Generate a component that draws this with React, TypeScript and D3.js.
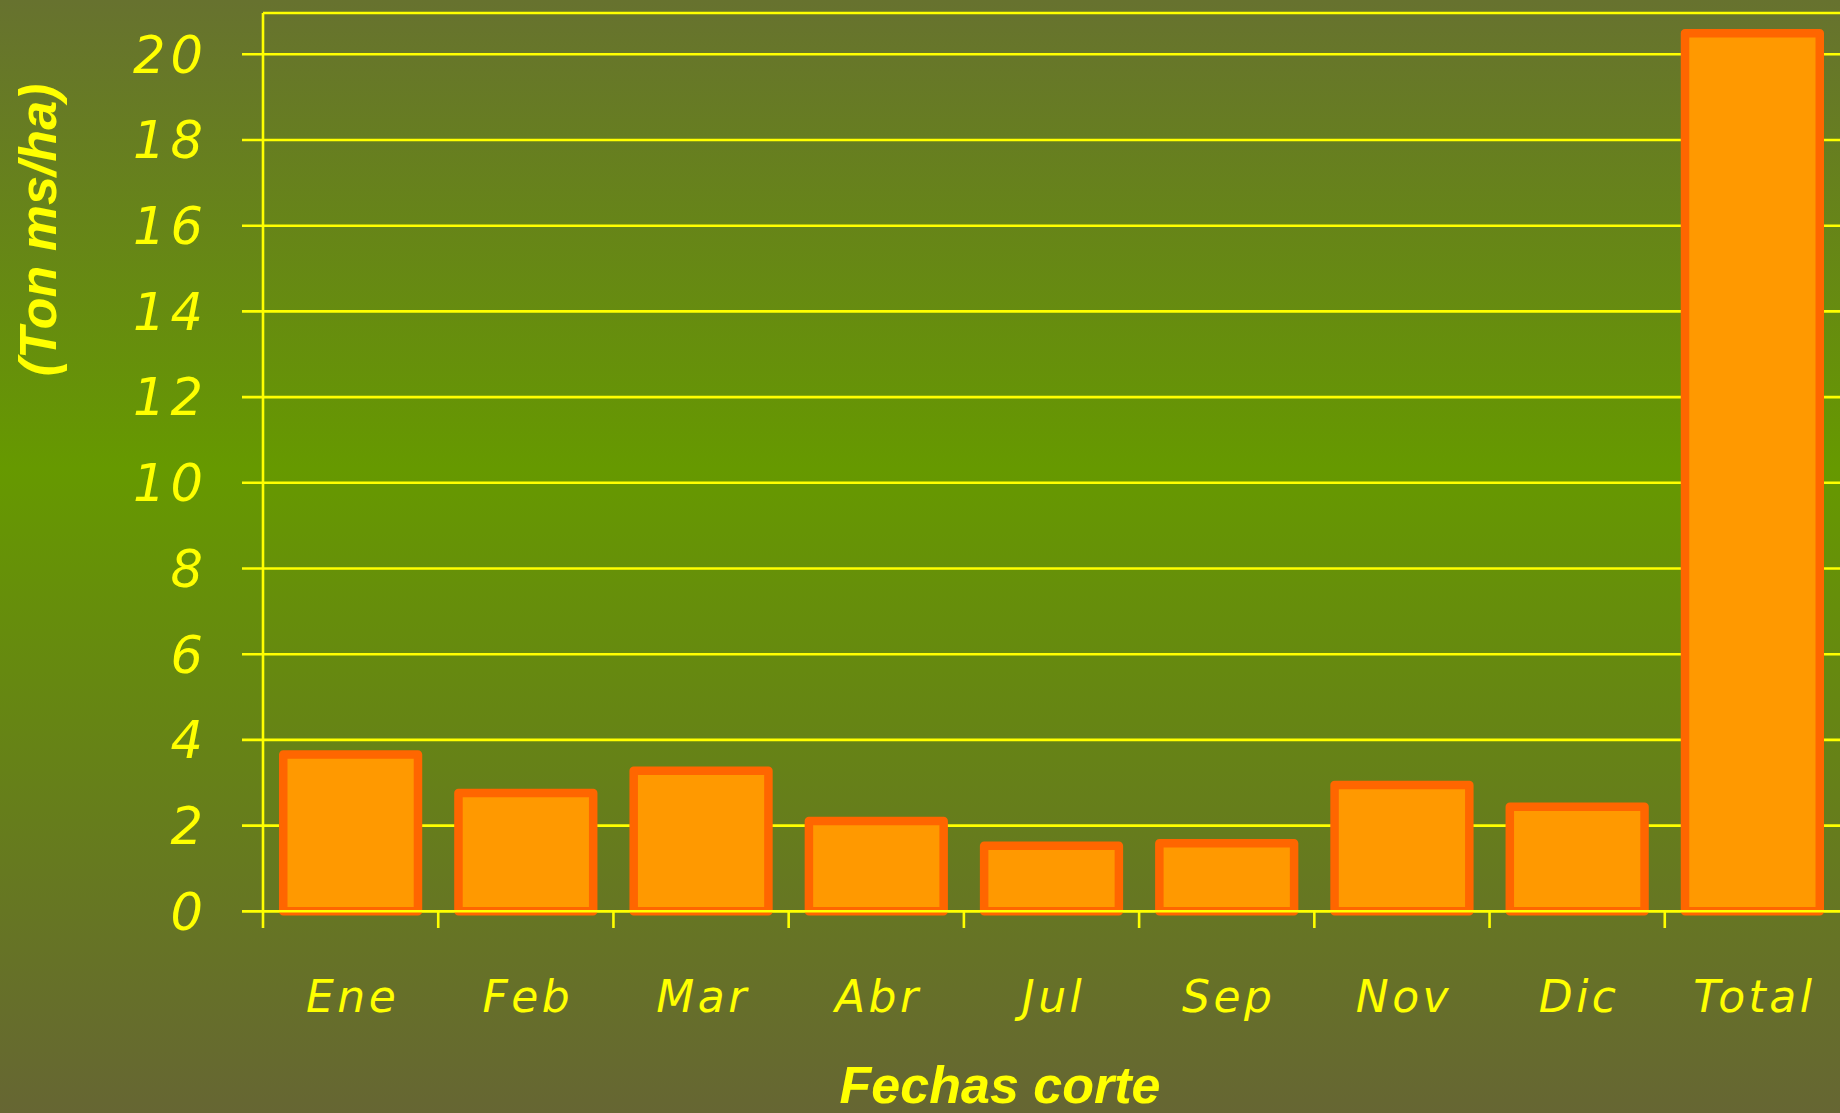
import React from 'react';
import * as d3 from 'd3';

// values (Ton ms/ha per cut)
const categories = ['Ene', 'Feb', 'Mar', 'Abr', 'Jul', 'Sep', 'Nov', 'Dic', 'Total'];
const values = [3.66, 2.76, 3.28, 2.11, 1.53, 1.59, 2.95, 2.44, 20.49];
const yTicks = [0, 2, 4, 6, 8, 10, 12, 14, 16, 18, 20];

const yTitle = '(Ton ms/ha)';
const xTitle = 'Fechas corte';

const App = () => {
    const width = 1840;
    const height = 1113;
    const left = 263;
    const right = 1840;
    const top = 13;
    const bottom = 911.3;

    const x = d3.scaleBand<string>()
        .domain(categories)
        .range([left, right])
        .paddingInner(0.231)
        .paddingOuter(0.1155);
    const y = d3.scaleLinear()
        .domain([0, 20])
        .range([bottom, bottom - 20 * 42.85]);

    const yellow = '#FFFF00';
    const lineW = 2.6;
    const tickFont = '"DejaVu Sans", sans-serif';
    const titleFont = '"Liberation Sans", Arial, sans-serif';
    const step = x.step();
    const boundaries = d3.range(1, categories.length).map(i => left + i * step);

    return (
        <svg width={width} height={height}
             style={{position: 'absolute', left: 0, top: 0, display: 'block'}}>
            <defs>
                <linearGradient id="bg" x1="0" y1="0" x2="0" y2="1">
                    <stop offset="0" stopColor="#67722f"/>
                    <stop offset="0.42" stopColor="#669900"/>
                    <stop offset="1" stopColor="#666633"/>
                </linearGradient>
            </defs>
            <rect x={0} y={0} width={width} height={height} fill="url(#bg)"/>

            {/* grid + left ticks */}
            {yTicks.map(t => (
                <line key={'g' + t} x1={242} x2={right} y1={y(t)} y2={y(t)}
                      stroke={yellow} strokeWidth={lineW}/>
            ))}
            <line x1={left} x2={right} y1={top} y2={top} stroke={yellow} strokeWidth={lineW}/>

            {/* bars */}
            {categories.map((c, i) => (
                <rect key={c} x={x(c)} y={y(values[i])}
                      width={x.bandwidth()} height={y(0) - y(values[i])}
                      fill="#FF9900" stroke="#FF6600" strokeWidth={8.5}
                      strokeLinejoin="round"/>
            ))}

            {/* axes on top */}
            <line x1={242} x2={right} y1={y(0)} y2={y(0)} stroke={yellow} strokeWidth={lineW}/>
            <line x1={left} x2={left} y1={top} y2={928} stroke={yellow} strokeWidth={lineW}/>
            {boundaries.map(b => (
                <line key={'t' + b} x1={b} x2={b} y1={y(0)} y2={928}
                      stroke={yellow} strokeWidth={lineW}/>
            ))}

            {yTicks.map(t => (
                <text key={'l' + t} x={208} y={y(t)} dy="0.36em" textAnchor="end"
                      fill={yellow} fontFamily={tickFont} fontStyle="italic"
                      fontSize={51} letterSpacing={5}>{t}</text>
            ))}
            {categories.map(c => (
                <text key={'x' + c} x={x(c) + x.bandwidth() / 2 + 2} y={1012}
                      textAnchor="middle" fill={yellow} fontFamily={tickFont}
                      fontStyle="italic" fontSize={44} letterSpacing={3.5}>{c}</text>
            ))}

            <text transform={'translate(56,230) rotate(-90)'} textAnchor="middle"
                  fill={yellow} fontFamily={titleFont} fontWeight="bold"
                  fontStyle="italic" fontSize={52}>{yTitle}</text>
            <text x={1000} y={1103} textAnchor="middle" fill={yellow}
                  fontFamily={titleFont} fontWeight="bold" fontStyle="italic"
                  fontSize={52}>{xTitle}</text>
        </svg>
    );
};

export default App;
